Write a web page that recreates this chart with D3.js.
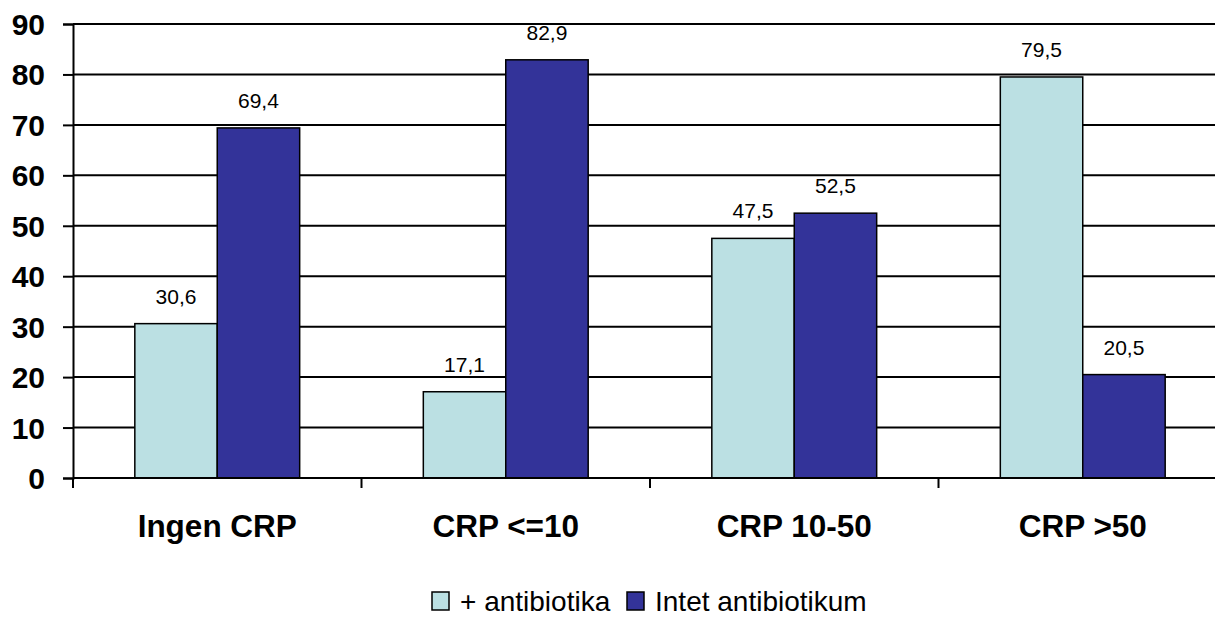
<!DOCTYPE html>
<html>
<head>
<meta charset="utf-8">
<script src="https://cdn.jsdelivr.net/npm/d3@7"></script>
<style>
  html, body { margin: 0; padding: 0; background: #fff; }
  svg { display: block; font-family: Arial, "Liberation Sans", sans-serif; }
</style>
</head>
<body>
<svg id="chart" width="1215" height="617"></svg>
<script>
const categories = ["Ingen CRP", "CRP <=10", "CRP 10-50", "CRP >50"];
const seriesNames = ["+ antibiotika", "Intet antibiotikum"];
const withAntibiotics = [30.6, 17.1, 47.5, 79.5];
const withoutAntibiotics = [69.4, 82.9, 52.5, 20.5];
const yTicks = [0, 10, 20, 30, 40, 50, 60, 70, 80, 90];
const colors = ["#BBE0E3", "#333399"];

const seriesValues = [withAntibiotics, withoutAntibiotics];
const data = categories.map((c, i) => ({
  category: c,
  values: seriesNames.map((s, j) => ({ series: s, idx: j, value: seriesValues[j][i] }))
}));

const svg = d3.select("#chart");
const FONT = "Arial, 'Liberation Sans', sans-serif";
const plotLeft = 73, plotTop = 24, plotBottom = 478, bandW = 288.5;

const x0 = d3.scaleBand().domain(categories).range([plotLeft, plotLeft + bandW * categories.length]).padding(0);
const x1 = d3.scaleBand().domain(seriesNames).range([0, x0.bandwidth()]).paddingInner(0).paddingOuter(0.75);
const y = d3.scaleLinear().domain([0, 90]).range([plotBottom, plotTop]);

// gridlines
svg.append("g").selectAll("line").data(yTicks).join("line")
  .attr("x1", plotLeft).attr("x2", 1215)
  .attr("y1", d => y(d)).attr("y2", d => y(d))
  .attr("stroke", "#000").attr("stroke-width", 2);

// y axis
const yAxis = d3.axisLeft(y).tickValues(yTicks).tickSize(10).tickPadding(18).tickFormat(d3.format("d"));
const gy = svg.append("g").attr("transform", `translate(${plotLeft},0)`).call(yAxis);
gy.select(".domain").attr("stroke", "#000").attr("stroke-width", 2);
gy.selectAll(".tick line").attr("stroke", "#000").attr("stroke-width", 2);
gy.selectAll(".tick text").attr("font-size", 30).attr("font-weight", "bold").attr("fill", "#000")
  .attr("font-family", FONT).attr("dy", "0.35em");

// bars
const groups = svg.append("g").selectAll("g").data(data).join("g")
  .attr("transform", d => `translate(${x0(d.category)},0)`);
groups.selectAll("rect").data(d => d.values).join("rect")
  .attr("x", d => x1(d.series))
  .attr("width", x1.bandwidth())
  .attr("y", d => y(d.value))
  .attr("height", d => y(0) - y(d.value))
  .attr("fill", d => colors[d.idx])
  .attr("stroke", "#000").attr("stroke-width", 1.5);

groups.selectAll("text").data(d => d.values).join("text")
  .attr("x", d => x1(d.series) + x1.bandwidth() / 2)
  .attr("y", d => y(d.value) - 20)
  .attr("text-anchor", "middle")
  .attr("font-size", 21)
  .attr("font-family", FONT)
  .attr("fill", "#000")
  .text(d => d3.format(".1f")(d.value).replace(".", ","));

// x axis
const xAxis = d3.axisBottom(x0).tickSize(0).tickPadding(37);
const gx = svg.append("g").attr("transform", `translate(0,${plotBottom})`).call(xAxis);
gx.select(".domain").remove();
gx.selectAll(".tick text").attr("font-size", 31.5).attr("font-weight", "bold").attr("fill", "#000")
  .attr("font-family", FONT);
svg.append("line").attr("x1", plotLeft).attr("x2", 1215).attr("y1", plotBottom).attr("y2", plotBottom)
  .attr("stroke", "#000").attr("stroke-width", 2);
const boundaries = categories.map(c => x0(c));
svg.append("g").selectAll("line").data(boundaries).join("line")
  .attr("x1", d => d).attr("x2", d => d)
  .attr("y1", plotBottom).attr("y2", plotBottom + 10)
  .attr("stroke", "#000").attr("stroke-width", 2);

// legend
const legend = svg.append("g");
const legendX = [432, 627];
seriesNames.forEach((s, i) => {
  const g = legend.append("g").attr("transform", `translate(${legendX[i]},592)`);
  g.append("rect").attr("width", 17).attr("height", 18).attr("fill", colors[i])
    .attr("stroke", "#000").attr("stroke-width", 1.5);
  g.append("text").attr("x", 28).attr("y", 18.5).attr("font-size", 28).attr("font-family", FONT)
    .attr("fill", "#000").text(s);
});
</script>
</body>
</html>
